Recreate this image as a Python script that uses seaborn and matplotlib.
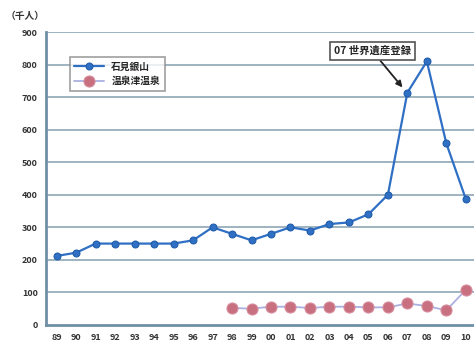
import matplotlib
matplotlib.use("Agg")
import matplotlib.pyplot as plt
import seaborn as sns
import pandas as pd
import numpy as np

years = ["89", "90", "91", "92", "93", "94", "95", "96", "97", "98", "99",
         "00", "01", "02", "03", "04", "05", "06", "07", "08", "09", "10"]
iwami = [212, 222, 250, 250, 250, 250, 250, 260, 300, 280, 260,
         280, 300, 290, 310, 315, 340, 400, 714, 810, 558, 387]
yunotsu = [None, None, None, None, None, None, None, None, None, 52, 50,
           56, 56, 52, 56, 56, 54, 54, 66, 58, 45, 108]
series_names = ["石見銀山", "温泉津温泉"]
y_ticks = [0, 100, 200, 300, 400, 500, 600, 700, 800, 900]

sns.set_theme(style="white")
plt.rcParams["font.family"] = ["Noto Sans CJK JP", "DejaVu Sans"]

df = pd.DataFrame({
    "idx": list(range(len(years))) * 2,
    "value": iwami + yunotsu,
    "series": [series_names[0]] * len(years) + [series_names[1]] * len(years),
}).dropna()

fig = plt.figure(figsize=(4.74, 3.49), dpi=100)
ax = fig.add_axes([0.097, 0.069, 0.903, 0.839])

grid_c = "#8fa6b6"
for v in y_ticks[1:]:
    ax.axhline(v, color=grid_c, lw=1.2, zorder=0)

sns.lineplot(data=df[df.series == series_names[0]], x="idx", y="value",
             color="#2f6fc4", lw=1.6, marker="o", markersize=5,
             markeredgecolor="#1f5aa8", label=series_names[0], ax=ax)
sns.lineplot(data=df[df.series == series_names[1]], x="idx", y="value",
             color="#aab0e0", lw=1.3, marker="o", markersize=8,
             markerfacecolor="#c8707f", markeredgecolor="#d890a0",
             label=series_names[1], ax=ax)

ax.set_xlim(-0.55, 21.42)
ax.set_ylim(0, 900)
ax.set_xticks(range(len(years)))
ax.set_xticklabels(years, fontsize=6.5, fontweight="bold", color="#333333")
ax.set_yticks(y_ticks)
ax.set_yticklabels([str(v) for v in y_ticks], fontsize=6.5, fontweight="bold",
                   color="#333333")
ax.tick_params(axis="both", length=0, pad=6)
ax.set_xlabel("")
ax.set_ylabel("")

for s in ["top", "right"]:
    ax.spines[s].set_visible(False)
for s in ["left", "bottom"]:
    ax.spines[s].set_color("#6f8fa6")
    ax.spines[s].set_linewidth(2)

fig.text(0.012, 0.945, "（千人）", fontsize=7, fontweight="bold", color="#333333")

leg = ax.legend(loc="upper left", bbox_to_anchor=(0.045, 0.93), fontsize=7,
                frameon=True, fancybox=False, edgecolor="#888888",
                handlelength=3, borderpad=0.45, labelspacing=0.45)
leg.get_frame().set_linewidth(1.2)
for t in leg.get_texts():
    t.set_fontweight("bold")

ax.annotate("07 世界遺産登録", xy=(17.75, 730), xytext=(16.2, 842),
            fontsize=7.5, fontweight="bold", ha="center", va="center",
            bbox=dict(boxstyle="square,pad=0.4", fc="white", ec="#555555", lw=1.2),
            arrowprops=dict(arrowstyle="-|>", color="#222222", lw=1.3,
                            shrinkA=0, shrinkB=0, mutation_scale=9))

fig.savefig("out.png", dpi=100)
